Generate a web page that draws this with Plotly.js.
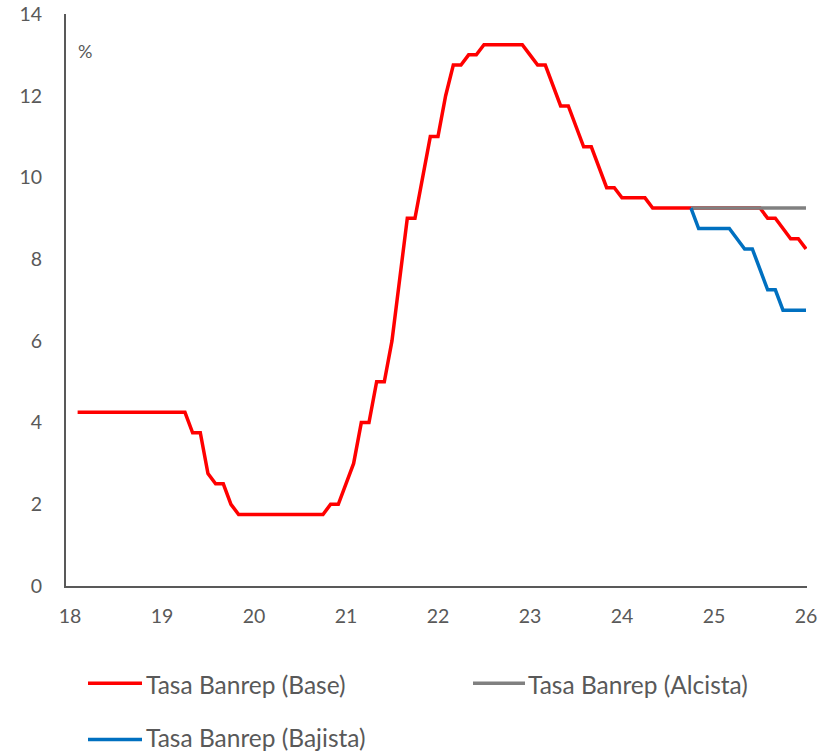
<!DOCTYPE html>
<html>
<head>
<meta charset="utf-8">
<script src="https://cdn.plot.ly/plotly-3.0.1.min.js"></script>
<style>
  html, body { margin: 0; padding: 0; background: #ffffff; }
  #chart { width: 830px; height: 754px; }
</style>
</head>
<body>
<div id="chart"></div>
<script>
// Monthly observations; first month after start of '18, last at '26
const startYear = 18;

const tasaBase = [
  4.25,4.25,4.25,4.25,4.25,4.25,4.25,4.25,4.25,4.25,4.25,4.25,4.25,4.25,4.25,
  3.75,3.75,2.75,2.5,2.5,2.0,
  1.75,1.75,1.75,1.75,1.75,1.75,1.75,1.75,1.75,1.75,1.75,1.75,
  2.0,2.0,2.5,3.0,4.0,4.0,5.0,5.0,6.0,7.5,9.0,9.0,10.0,11.0,11.0,12.0,
  12.75,12.75,13.0,13.0,
  13.25,13.25,13.25,13.25,13.25,13.25,
  13.0,12.75,12.75,12.25,11.75,11.75,11.25,10.75,10.75,10.25,9.75,9.75,
  9.5,9.5,9.5,9.5,
  9.25,9.25,9.25,9.25,9.25,9.25,9.25,9.25,9.25,9.25,9.25,9.25,9.25,9.25,9.25,
  9.0,9.0,8.75,8.5,8.5,8.25
];
const scenarioStart = 80; // index where scenarios split
const tasaAlcista = [9.25,9.25,9.25,9.25,9.25,9.25,9.25,9.25,9.25,9.25,9.25,9.25,9.25,9.25,9.25,9.25];
const tasaBajista = [9.25,8.75,8.75,8.75,8.75,8.75,8.5,8.25,8.25,7.75,7.25,7.25,6.75,6.75,6.75,6.75];

const xTickVals = [18,19,20,21,22,23,24,25,26];
const xTickText = ['18','19','20','21','22','23','24','25','26'];
const yTickVals = [0,2,4,6,8,10,12,14];

const seriesNames = ['Tasa Banrep (Base)','Tasa Banrep (Alcista)','Tasa Banrep (Bajista)'];
const seriesColors = ['#FF0000','#808080','#0070C0'];

const xAll = tasaBase.map((_, i) => startYear + (i + 1) / 12);
const xScen = xAll.slice(scenarioStart);

const traces = [
  {x: xAll, y: tasaBase, name: seriesNames[0], type: 'scatter', mode: 'lines',
   line: {color: seriesColors[0], width: 3.5}, showlegend: false, hoverinfo: 'skip'},
  {x: xScen, y: tasaAlcista, name: seriesNames[1], type: 'scatter', mode: 'lines',
   line: {color: seriesColors[1], width: 3.5}, showlegend: false, hoverinfo: 'skip'},
  {x: xScen, y: tasaBajista, name: seriesNames[2], type: 'scatter', mode: 'lines',
   line: {color: seriesColors[2], width: 3.5}, showlegend: false, hoverinfo: 'skip'}
];

// manual legend (paper coords); plot area spans 66..807 px, 14..586 px
const W = 741, H = 571.7, L = 66, T = 14;
const px = v => (v - L) / W;
const py = v => (T + H - v) / H;

const legendItems = [
  {x0: 88, x1: 142, y: 683, ty: 684, tx: 145, name: seriesNames[0], color: seriesColors[0]},
  {x0: 473, x1: 525, y: 683, ty: 684, tx: 527, name: seriesNames[1], color: seriesColors[1]},
  {x0: 88, x1: 142, y: 739, ty: 737, tx: 145, name: seriesNames[2], color: seriesColors[2]}
];

const shapes = legendItems.map(it => ({
  type: 'line', xref: 'paper', yref: 'paper',
  x0: px(it.x0), x1: px(it.x1), y0: py(it.y), y1: py(it.y),
  line: {color: it.color, width: 3.5}
}));

const annotations = legendItems.map(it => ({
  xref: 'paper', yref: 'paper', x: px(it.tx), y: py(it.ty),
  xanchor: 'left', yanchor: 'middle', showarrow: false, text: it.name,
  borderpad: 0,
  font: {family: 'Lato, sans-serif', size: 24.5, color: '#595959'}
}));
annotations.push({
  xref: 'paper', yref: 'paper', x: px(85), y: py(51),
  xanchor: 'center', yanchor: 'middle', showarrow: false, text: '%',
  font: {family: 'Lato, sans-serif', size: 18, color: '#595959'}
});

const layout = {
  width: 830, height: 754,
  margin: {l: 66, r: 23, t: 14, b: 168, pad: 0},
  paper_bgcolor: '#ffffff', plot_bgcolor: '#ffffff',
  showlegend: false,
  xaxis: {
    range: [17.957, 26.011], tickmode: 'array', tickvals: xTickVals, ticktext: xTickText,
    showgrid: false, zeroline: false, showline: true, linecolor: '#595959', linewidth: 2,
    ticks: '', ticklabelstandoff: 12,
    tickfont: {family: 'Lato, sans-serif', size: 19.5, color: '#595959'}
  },
  yaxis: {
    range: [0, 14], tickmode: 'array', tickvals: yTickVals,
    showgrid: false, zeroline: false, showline: true, linecolor: '#595959', linewidth: 2,
    ticks: '', ticklabelstandoff: 18,
    tickfont: {family: 'Lato, sans-serif', size: 19.5, color: '#595959'}
  },
  shapes: shapes,
  annotations: annotations
};

Plotly.newPlot('chart', traces, layout, {displayModeBar: false, staticPlot: true});
</script>
</body>
</html>
